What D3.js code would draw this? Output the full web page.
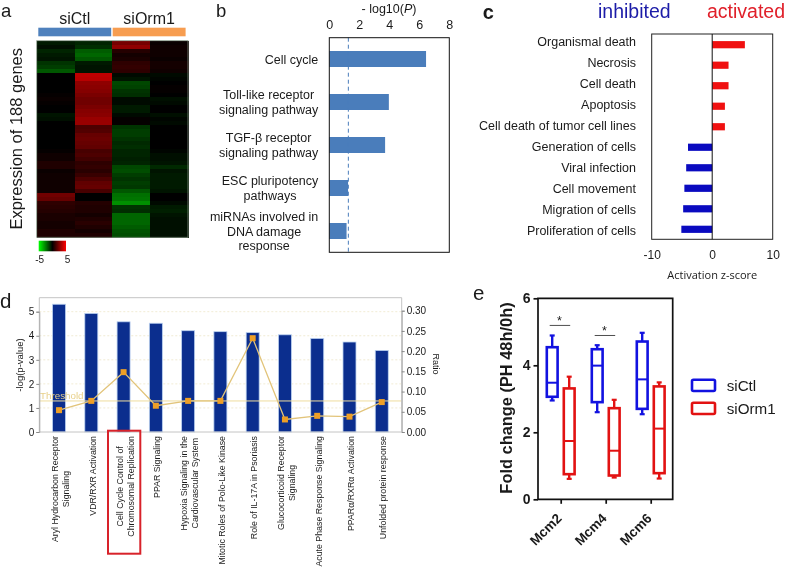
<!DOCTYPE html>
<html><head><meta charset="utf-8">
<script src="https://cdn.jsdelivr.net/npm/d3@7"></script>
<style>
html,body{margin:0;padding:0;background:#fff}
svg{display:block;filter:blur(0.35px)}
text{font-family:"Liberation Sans",Arial,sans-serif;fill:#1a1a1a}
</style></head><body>
<svg id="c" width="785" height="568"></svg>
<script>
// Panel a
const heatColumns = ["siCtl 1","siCtl 2","siOrm1 1","siOrm1 2"];
const heat1 = [-0.5,-0.3,-0.7,-0.5,-0.4,-1.0,-1.2,-1.7,0,0,0,0,0,0.1,0.2,0.1,0,0,-0.4,-0.3,0,0,0,0,0,0,0,0.1,0.3,0.3,0.6,0.6,0.2,0.3,0.3,0.3,0.3,0.3,2.2,2.0,0.9,0.8,0.7,0.5,0.5,0.4,0.4,0.6,0.6];
const heat2 = [-0.7,-0.9,-1.8,-2.0,-1.7,-0.5,-0.4,-0.4,3.7,3.6,2.8,2.7,2.6,2.4,2.2,2.2,2.4,2.6,2.7,3.0,3.0,1.5,1.6,2.0,2.1,2.0,1.9,1.4,1.5,1.3,0.9,1.0,0.8,1.1,1.5,1.9,2.0,1.4,0,0,0.7,0.6,0.6,0.4,0.6,0.8,0.6,0.4,0.6];
const heat3 = [2.3,2.8,0.7,0.4,0.5,0.9,1.0,0.9,-0.2,-0.4,-1.4,-1.3,-1.0,-0.9,-0.2,-0.2,-0.5,-0.5,-0.2,0.1,0.1,-1.0,-1.2,-1.2,-1.0,-0.8,-0.9,-0.7,-0.7,-0.6,-0.7,-1.4,-1.5,-1.2,-1.0,-1.2,-1.1,-1.7,-2.2,-2.3,-2.8,-1.0,-0.9,-2.0,-2.0,-2.0,-1.8,-1.6,-1.5];
const heat4 = [0.2,0.3,0.3,0.3,0.2,0.4,0.4,0.3,-0.2,-0.1,0,0.1,0.1,0,-0.3,-0.2,0,0,-0.3,-0.1,-0.2,0,0,0,0,0,0,-0.1,-0.3,-0.3,-0.4,-0.8,-0.4,-0.5,-0.5,-0.5,-0.5,-0.4,0,0,-0.2,-0.5,-0.6,-0.4,-0.3,-0.3,-0.3,-0.3,-0.3];
const heatGroups = ["siCtl","siOrm1"];
const heatLegendTicks = [-5,5];
// Panel b
const pathways = [["Cell cycle"],["Toll-like receptor","signaling pathway"],["TGF-β receptor","signaling pathway"],["ESC pluripotency","pathways"],["miRNAs involved in","DNA damage","response"]];
const pathwayP = [6.45,3.97,3.72,1.25,1.15];
const pThreshold = 1.27;
const pTicks = [0,2,4,6,8];
// Panel c
const functions = ["Organismal death","Necrosis","Cell death","Apoptosis","Cell death of tumor cell lines","Generation of cells","Viral infection","Cell movement","Migration of cells","Proliferation of cells"];
const zScores = [5.4,2.7,2.7,2.1,2.1,-4.0,-4.3,-4.6,-4.8,-5.1];
const zTicks = [-10,0,10];
// Panel d
const ipaPaths = [["Aryl Hydrocarbon Receptor","Signaling"],["VDR/RXR Activation"],["Cell Cycle Control of","Chromosomal Replication"],["PPAR Signaling"],["Hypoxia Signaling in the","Cardiovascular System"],["Mitotic Roles of Polo-Like Kinase"],["Role of IL-17A in Psoriasis"],["Glucocorticoid Receptor","Signaling"],["Acute Phase Response Signaling"],["PPARα/RXRα Activation"],["Unfolded protein response"]];
const ipaLogP = [5.31,4.93,4.58,4.52,4.21,4.17,4.13,4.04,3.89,3.74,3.39];
const ipaRatio = [0.054,0.077,0.148,0.065,0.077,0.077,0.232,0.031,0.040,0.038,0.074];
const ipaThreshold = 1.29;
const logPTicks = [0,1,2,3,4,5];
const ratioTicks = [0,0.05,0.10,0.15,0.20,0.25,0.30];
// Panel e
const genes = ["Mcm2","Mcm4","Mcm6"];
const boxGroups = ["siCtl","siOrm1"];
const boxCtlMin = [2.95,2.60,2.54];
const boxCtlQ1  = [3.06,2.90,2.70];
const boxCtlMed = [3.48,3.99,3.58];
const boxCtlQ3  = [4.54,4.48,4.71];
const boxCtlMax = [4.89,4.60,4.97];
const boxOrmMin = [0.61,0.65,0.62];
const boxOrmQ1  = [0.75,0.71,0.78];
const boxOrmMed = [1.74,1.45,2.11];
const boxOrmQ3  = [3.31,2.72,3.37];
const boxOrmMax = [3.66,2.97,3.49];
const foldTicks = [0,2,4,6];
const sigBars = [{gene:"Mcm2",level:5.19},{gene:"Mcm4",level:4.89}];

const svg = d3.select("#c");
const txt = (p,x,y,s,size,o={}) => p.append("text").attr("x",x).attr("y",y).text(s)
  .attr("font-size",size).attr("text-anchor",o.anchor||"start")
  .attr("font-weight",o.weight||null).style("fill",o.fill||null)
  .attr("dominant-baseline",o.base||null).attr("transform",o.rot?`rotate(${o.rot} ${x} ${y})`:null)
  .style("font-family",o.family||null);

// panel letters
txt(svg,1,16.8,"a",18.5); txt(svg,216,16.8,"b",18.5); txt(svg,482.7,19.3,"c",20,{weight:"bold"});
txt(svg,0,308,"d",20.5); txt(svg,473,300,"e",20.5);

/* ---------- a ---------- */
{
  const color = d3.scaleLinear().domain([-5,0,5]).range(["#00ff00","#000000","#ff0000"]);
  const x = d3.scaleBand().domain(heatColumns).range([36.7,188]);
  const rows = d3.range(heat1.length);
  const y = d3.scaleBand().domain(rows).range([40.7,237.3]);
  const g = svg.append("g").attr("shape-rendering","crispEdges");
  [heat1,heat2,heat3,heat4].forEach((col,ci)=>{
    g.selectAll(null).data(col).enter().append("rect")
      .attr("x",x(heatColumns[ci])).attr("width",x.bandwidth()+0.6)
      .attr("y",(d,i)=>y(i)).attr("height",y.bandwidth()+0.6)
      .attr("fill",d=>color(d));
  });
  svg.append("rect").attr("x",36.7).attr("y",40.7).attr("width",151.3).attr("height",196.6)
    .attr("fill","none").attr("stroke","#7f8f7f").attr("stroke-width",0.8);
  const hdr = d3.scaleBand().domain(heatGroups).range([38.3,185.6]).paddingInner(0.02);
  svg.selectAll(null).data(heatGroups).enter().append("rect")
    .attr("x",d=>hdr(d)).attr("width",hdr.bandwidth()).attr("y",27.7).attr("height",8.6)
    .attr("fill",(d,i)=>i?"#f79d50":"#4f81bd");
  heatGroups.forEach(d=>txt(svg,hdr(d)+hdr.bandwidth()/2,24,d,16,{anchor:"middle"}));
  txt(svg,22,138.8,"Expression of 188 genes",16.5,{anchor:"middle",rot:-90});
  const defs = svg.append("defs");
  const lg = defs.append("linearGradient").attr("id","hm");
  [[0,"#00ff00"],[0.5,"#000"],[1,"#ff0000"]].forEach(s=>lg.append("stop").attr("offset",s[0]).attr("stop-color",s[1]));
  const lx = d3.scaleLinear().domain(heatLegendTicks).range([38.7,66]);
  svg.append("rect").attr("x",lx(-5)).attr("y",240.7).attr("width",lx(5)-lx(-5)).attr("height",10.6).attr("fill","url(#hm)");
  heatLegendTicks.forEach(t=>txt(svg,lx(t)+(t<0?1:1.5),263,String(t),10,{anchor:"middle"}));
}

/* ---------- b ---------- */
{
  const L=329.3,R=449.3,T=37.7,B=252.3;
  const x = d3.scaleLinear().domain([0,8]).range([L,R]);
  const y = d3.scalePoint().domain(d3.range(pathways.length)).range([59,231]);
  svg.selectAll(null).data(pathwayP).enter().append("rect")
    .attr("x",L).attr("y",(d,i)=>y(i)-8).attr("height",16).attr("width",d=>x(d)-L)
    .attr("fill","#4a7dbb");
  svg.append("line").attr("x1",x(pThreshold)).attr("x2",x(pThreshold)).attr("y1",T).attr("y2",B)
    .attr("stroke","#4a7dbb").attr("stroke-width",1).attr("stroke-dasharray","4 3");
  svg.append("rect").attr("x",L).attr("y",T).attr("width",R-L).attr("height",B-T)
    .attr("fill","none").attr("stroke","#111").attr("stroke-width",1);
  const ax = svg.append("g").attr("transform",`translate(0,${T})`).call(d3.axisTop(x).tickValues(pTicks).tickSize(0).tickPadding(9).tickFormat(String));
  ax.select(".domain").remove();
  ax.selectAll("text").attr("font-size",12.5);
  const t = svg.append("text").attr("x",389).attr("y",12.5).attr("text-anchor","middle").attr("font-size",12.5);
  t.append("tspan").text("- log10(");
  t.append("tspan").attr("font-style","italic").text("P");
  t.append("tspan").text(")");
  pathways.forEach((lines,i)=>{
    const lh=14.7, y0=y(i)-(lines.length-1)*lh/2;
    const els = lines.map((s,j)=>txt(svg,0,y0+j*lh+4.5,s,12.5,{anchor:"middle"}));
    const w = d3.max(els,e=>e.node().getComputedTextLength());
    els.forEach(e=>e.attr("x",318.3-w/2));
  });
}

/* ---------- c ---------- */
{
  const L=651.7,R=772.7,T=34,B=239.3;
  const x = d3.scaleLinear().domain([-10,10]).range([L,R]);
  const y = d3.scalePoint().domain(functions).range([44.7,229.3]);
  const yLabel = d3.scalePoint().domain(functions).range([46,235]);
  svg.selectAll(null).data(zScores).enter().append("rect")
    .attr("x",d=>Math.min(x(d),x(0))).attr("width",d=>Math.abs(x(d)-x(0)))
    .attr("y",(d,i)=>y(functions[i])-3.6).attr("height",7.2)
    .attr("fill",d=>d>0?"#f01010":"#0a0ac0");
  svg.append("rect").attr("x",L).attr("y",T).attr("width",R-L).attr("height",B-T)
    .attr("fill","none").attr("stroke","#222").attr("stroke-width",1);
  svg.append("line").attr("x1",x(0)).attr("x2",x(0)).attr("y1",T).attr("y2",B).attr("stroke","#111");
  functions.forEach(f=>txt(svg,636,yLabel(f),f,12.5,{anchor:"end"}));
  const ax = svg.append("g").attr("transform",`translate(0,${B})`).call(d3.axisBottom(x).tickValues(zTicks).tickSize(0).tickPadding(11).tickFormat(String));
  ax.select(".domain").remove();
  ax.selectAll("text").attr("font-size",12);
  txt(svg,712.3,279,"Activation z-score",11,{anchor:"middle",family:"Open Sans"});
  txt(svg,598,17.5,"inhibited",19.5,{fill:"#1c1ca8"});
  txt(svg,707,17.5,"activated",19.5,{fill:"#e0202a"});
}

/* ---------- d ---------- */
{
  const L=39.3,R=401.7,T=297.7,B=432;
  const x = d3.scaleBand().domain(d3.range(ipaPaths.length)).range([42.9,397.9]);
  const yl = d3.scaleLinear().domain([0,5]).range([B,311.7]);
  const yr = d3.scaleLinear().domain([0,0.30]).range([B,310.7]);
  const cx = i=>x(i)+x.bandwidth()/2;
  logPTicks.slice(1).forEach(t=>svg.append("line").attr("x1",L).attr("x2",R).attr("y1",yl(t)).attr("y2",yl(t))
    .attr("stroke","#eee6c8").attr("stroke-width",0.8).attr("stroke-dasharray","2 2"));
  svg.selectAll(null).data(ipaLogP).enter().append("rect")
    .attr("x",(d,i)=>cx(i)-6.5).attr("width",13).attr("y",d=>yl(d)).attr("height",d=>B-yl(d))
    .attr("fill","#0b2e8e").attr("stroke","#bcd2f0").attr("stroke-width",0.8);
  svg.append("line").attr("x1",L).attr("x2",R).attr("y1",yl(ipaThreshold)).attr("y2",yl(ipaThreshold))
    .attr("stroke","#efdd9f").attr("stroke-width",1);
  txt(svg,40,399,"Threshold",9.8,{fill:"#e8d08a"});
  svg.append("path").datum(ipaRatio).attr("fill","none").attr("stroke","#e2c47a").attr("stroke-width",1.3)
    .attr("d",d3.line().x((d,i)=>cx(i)).y(d=>yr(d)));
  svg.selectAll(null).data(ipaRatio).enter().append("rect")
    .attr("x",(d,i)=>cx(i)-3).attr("y",d=>yr(d)-3).attr("width",6).attr("height",6).attr("fill","#ee9f26");
  svg.append("path").attr("d",`M${L},${T}H${R}V${B}H${L}Z`).attr("fill","none").attr("stroke","#c4c4c4").attr("stroke-width",1);
  const al = svg.append("g").attr("transform",`translate(${L},0)`).call(d3.axisLeft(yl).tickValues(logPTicks).tickSize(3).tickPadding(2).tickFormat(String));
  al.select(".domain").attr("stroke","#aaa"); al.selectAll("line").attr("stroke","#888");
  al.selectAll("text").attr("font-size",10);
  const ar = svg.append("g").attr("transform",`translate(${R},0)`).call(d3.axisRight(yr).tickValues(ratioTicks).tickSize(3).tickPadding(2).tickFormat(d3.format(".2f")));
  ar.select(".domain").attr("stroke","#aaa"); ar.selectAll("line").attr("stroke","#888");
  ar.selectAll("text").attr("font-size",10);
  txt(svg,23,365,"-log(p-value)",9.5,{anchor:"middle",rot:-90});
  txt(svg,433,364,"Ratio",9,{anchor:"middle",rot:90});
  ipaPaths.forEach((lines,i)=>{
    const g = svg.append("g");
    const els = lines.map((s,j)=>{
      const lh=11, px=cx(i)+(j-(lines.length-1)/2)*lh+4.5;
      return g.append("text").text(s).attr("font-size",8.8).attr("text-anchor","middle").attr("data-x",px);
    });
    const w = d3.max(els,e=>e.node().getComputedTextLength());
    const py = 436+w/2;
    els.forEach(e=>{const px=+e.attr("data-x"); e.attr("x",px).attr("y",py).attr("transform",`rotate(-90 ${px} ${py})`);});
  });
  svg.append("rect").attr("x",108).attr("y",430.7).attr("width",32.3).attr("height",123)
    .attr("fill","none").attr("stroke","#d8222a").attr("stroke-width",2);
}

/* ---------- e ---------- */
{
  const L=538,R=672.7,T=298.3,B=499.3;
  const x = d3.scalePoint().domain(genes).range([560.7,650.7]);
  const y = d3.scaleLinear().domain([0,6]).range([B,T]);
  const groups = [
    {c:"#1212e0",o:-8.5,min:boxCtlMin,q1:boxCtlQ1,med:boxCtlMed,q3:boxCtlQ3,max:boxCtlMax},
    {c:"#e21212",o:8.5,min:boxOrmMin,q1:boxOrmQ1,med:boxOrmMed,q3:boxOrmQ3,max:boxOrmMax}];
  const bw=10.8;
  groups.forEach(gr=>genes.forEach((gene,i)=>{
    const cx=x(gene)+gr.o, g=svg.append("g").attr("stroke",gr.c).attr("fill","none");
    g.append("line").attr("x1",cx).attr("x2",cx).attr("y1",y(gr.max[i])).attr("y2",y(gr.q3[i])).attr("stroke-width",2.4);
    g.append("line").attr("x1",cx).attr("x2",cx).attr("y1",y(gr.q1[i])).attr("y2",y(gr.min[i])).attr("stroke-width",2.4);
    [gr.max[i],gr.min[i]].forEach(v=>g.append("line").attr("x1",cx-2.5).attr("x2",cx+2.5).attr("y1",y(v)).attr("y2",y(v)).attr("stroke-width",2.2));
    g.append("rect").attr("x",cx-bw/2).attr("width",bw).attr("y",y(gr.q3[i])).attr("height",y(gr.q1[i])-y(gr.q3[i])).attr("stroke-width",2.6);
    g.append("line").attr("x1",cx-bw/2).attr("x2",cx+bw/2).attr("y1",y(gr.med[i])).attr("y2",y(gr.med[i])).attr("stroke-width",2);
  }));
  sigBars.forEach(s=>{
    const cx=x(s.gene);
    svg.append("line").attr("x1",cx-11).attr("x2",cx+9.5).attr("y1",y(s.level)).attr("y2",y(s.level)).attr("stroke","#222").attr("stroke-width",0.8);
    txt(svg,cx-1.3,y(s.level)-0.5,"*",12.5,{anchor:"middle"});
  });
  svg.append("path").attr("d",`M${L},${T}H${R}V${B}H${L}Z`).attr("fill","none").attr("stroke","#111").attr("stroke-width",1.7);
  const al = svg.append("g").attr("transform",`translate(${L},0)`).call(d3.axisLeft(y).tickValues(foldTicks).tickSize(4.5).tickPadding(3).tickFormat(String));
  al.select(".domain").remove(); al.selectAll("line").attr("stroke","#111").attr("stroke-width",1.7);
  al.selectAll("text").attr("font-size",14).attr("font-weight","bold");
  const ab = svg.append("g").attr("transform",`translate(0,${B})`).call(d3.axisBottom(x).tickSize(4.5).tickFormat(""));
  ab.select(".domain").remove(); ab.selectAll("line").attr("stroke","#111").attr("stroke-width",1.7);
  genes.forEach(g=>txt(svg,x(g)-5,B+13,g,13.5,{anchor:"end",weight:"bold",rot:-45,base:"hanging"}));
  txt(svg,512,398,"Fold change (PH 48h/0h)",16.4,{anchor:"middle",weight:"bold",rot:-90});
  boxGroups.forEach((g,i)=>{
    const y0=[379.7,402.7][i];
    svg.append("rect").attr("x",692).attr("y",y0).attr("width",23).attr("height",11.3).attr("rx",1.5)
      .attr("fill","none").attr("stroke",groups[i].c).attr("stroke-width",2.6);
    txt(svg,726.7,y0+11,g,15.2);
  });
}
</script></body></html>
